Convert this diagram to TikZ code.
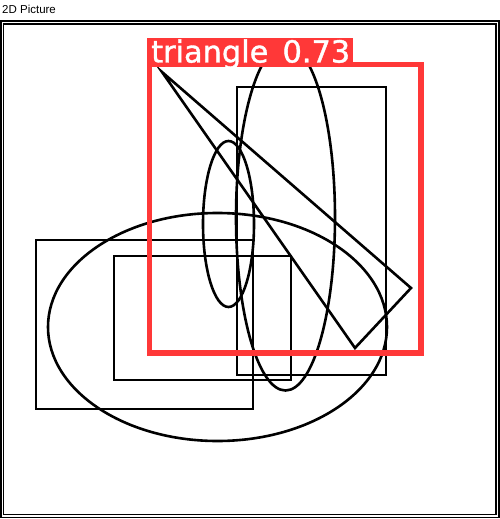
\documentclass[tikz,border=0pt]{standalone}
\usepackage{fontspec}
\setmainfont{Liberation Sans}
\newfontfamily\labelfont[FakeBold=1.2]{DejaVu Sans}
\begin{document}
\begin{tikzpicture}[x=1pt,y=-1pt,
  outline/.style={draw=black,line width=2.6pt},
  frameline/.style={draw=black,line width=1.6pt},
  redbox/.style={draw={rgb,255:red,255;green,56;blue,56},line width=5.5pt},
  redlabel/.style={fill={rgb,255:red,255;green,56;blue,56},inner sep=0pt,anchor=north west,text=white}]
\useasboundingbox (0,0) rectangle (500,519);
\fill[white] (0,0) rectangle (500,519);
\node[anchor=west,inner sep=0pt,font=\fontsize{11.5}{12}\selectfont] (title) at (2,9) {2D Picture};
\draw[frameline] (0.8,21) rectangle (498.8,517.6);
\draw[frameline] (3.6,23.8) rectangle (496,514.6);
% rectangles
\draw[outline] (36,240) rectangle (253,409);
\draw[outline] (114,256) rectangle (291,380);
\draw[outline] (237,87) rectangle (386,375);
% ellipses
\draw[outline] (217.5,327) ellipse [x radius=169.5, y radius=114];
\draw[outline] (285.5,217.5) ellipse [x radius=49.5, y radius=173];
\draw[outline] (228.5,224) ellipse [x radius=25.5, y radius=83];
% triangle
\coordinate (t1) at (162,72);
\coordinate (t2) at (411,288);
\coordinate (t3) at (355,348);
\draw[outline,line join=miter] (t1) -- (t2) -- (t3) -- cycle;
% detection box
\draw[redbox] (149.5,64.5) rectangle (421,353);
\node[redlabel,minimum width=206pt,minimum height=27pt] (lab) at (147,38) {};
\node[anchor=base west,inner sep=0pt,text=white] (labtext) at (151,62.5) {\resizebox{199pt}{!}{\labelfont\fontsize{27}{27}\selectfont triangle\kern4pt\ 0.73}};
\end{tikzpicture}
\end{document}
